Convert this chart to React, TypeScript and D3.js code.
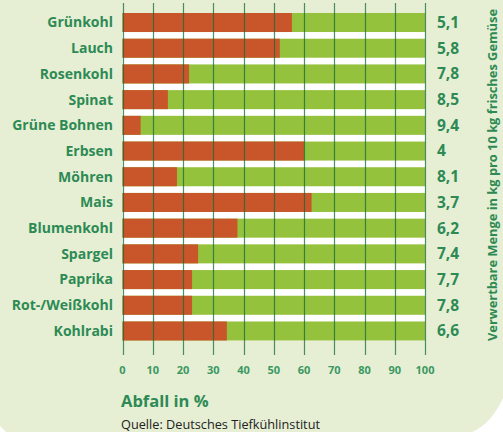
import * as d3 from 'd3';

// Gemüse, Abfall in %, verwertbare Menge (kg pro 10 kg)
const categories = [
  'Grünkohl', 'Lauch', 'Rosenkohl', 'Spinat', 'Grüne Bohnen', 'Erbsen', 'Möhren',
  'Mais', 'Blumenkohl', 'Spargel', 'Paprika', 'Rot-/Weißkohl', 'Kohlrabi',
];
const wastePercent = [56, 52, 22, 15, 6, 60, 18, 62.5, 38, 25, 23, 23, 34.5];
const usableLabels = ['5,1', '5,8', '7,8', '8,5', '9,4', '4', '8,1', '3,7', '6,2', '7,4', '7,7', '7,8', '6,6'];
const ticks = [0, 10, 20, 30, 40, 50, 60, 70, 80, 90, 100];

const W = 503;
const H = 432;
const red = '#c9562b';
const green = '#95c23c';
const textGreen = '#2d8a55';
const bg = '#e6efd4';
const font = '"Open Sans", "Noto Sans", sans-serif';

export default function App(): JSX.Element {
  const x = d3.scaleLinear().domain([0, 100]).range([122.5, 425]);
  const y = d3.scaleBand<string>().domain(categories).range([13, 340.5]).paddingInner(0.26).paddingOuter(0);
  const bh = y.bandwidth();

  const bgPath = `M0,0 H${W} V398 Q${W - 12},424 472,${H} H6 L0,426 Z`;

  return (
    <svg width={W} height={H} style={{ position: 'absolute', left: 0, top: 0 }} fontFamily={font}>
      <rect width={W} height={H} fill="#fff" />
      <path d={bgPath} fill={bg} />
      <rect x={x(0)} y={y.range()[0]} width={x(100) - x(0)} height={y.range()[1] - y.range()[0]} fill="#fff" />
      {categories.map((c, i) => (
        <g key={c}>
          <rect x={x(0)} y={y(c)} width={x(100) - x(0)} height={bh} fill={green} />
          <rect x={x(0)} y={y(c)} width={x(wastePercent[i]) - x(0)} height={bh} fill={red} />
          <text
            x={113}
            y={(y(c) ?? 0) + bh / 2}
            dy="0.35em"
            textAnchor="end"
            fontSize={14}
            fontWeight={700}
            fill={textGreen}
          >
            {c}
          </text>
          <text
            x={437}
            y={(y(c) ?? 0) + bh / 2}
            dy="0.35em"
            fontSize={15.5}
            fontWeight={700}
            fill={textGreen}
          >
            {usableLabels[i]}
          </text>
        </g>
      ))}
      {ticks.map((t) => (
        <g key={t}>
          <line
            x1={Math.round(x(t)) + 0.5}
            x2={Math.round(x(t)) + 0.5}
            y1={3}
            y2={355}
            stroke="#176a3b"
            strokeOpacity={0.75}
            strokeWidth={1.2}
          />
          <text x={x(t)} y={370} dy="0.35em" textAnchor="middle" fontSize={11} fontWeight={700} fill="#3b9862">
            {t}
          </text>
        </g>
      ))}
      <text x={121} y={401} dy="0.35em" fontSize={16.5} fontWeight={700} fill={textGreen}>
        Abfall in %
      </text>
      <text x={121} y={424} dy="0.35em" fontSize={13} fill="#222" textLength={199} lengthAdjust="spacingAndGlyphs">
        Quelle: Deutsches Tiefkühlinstitut
      </text>
      <text
        transform={`translate(492,175) rotate(-90)`}
        textAnchor="middle"
        dy="0.35em"
        fontSize={13}
        fontWeight={700}
        fill={textGreen}
        textLength={332}
        lengthAdjust="spacingAndGlyphs"
      >
        Verwertbare Menge in kg pro 10 kg frisches Gemüse
      </text>
    </svg>
  );
}
